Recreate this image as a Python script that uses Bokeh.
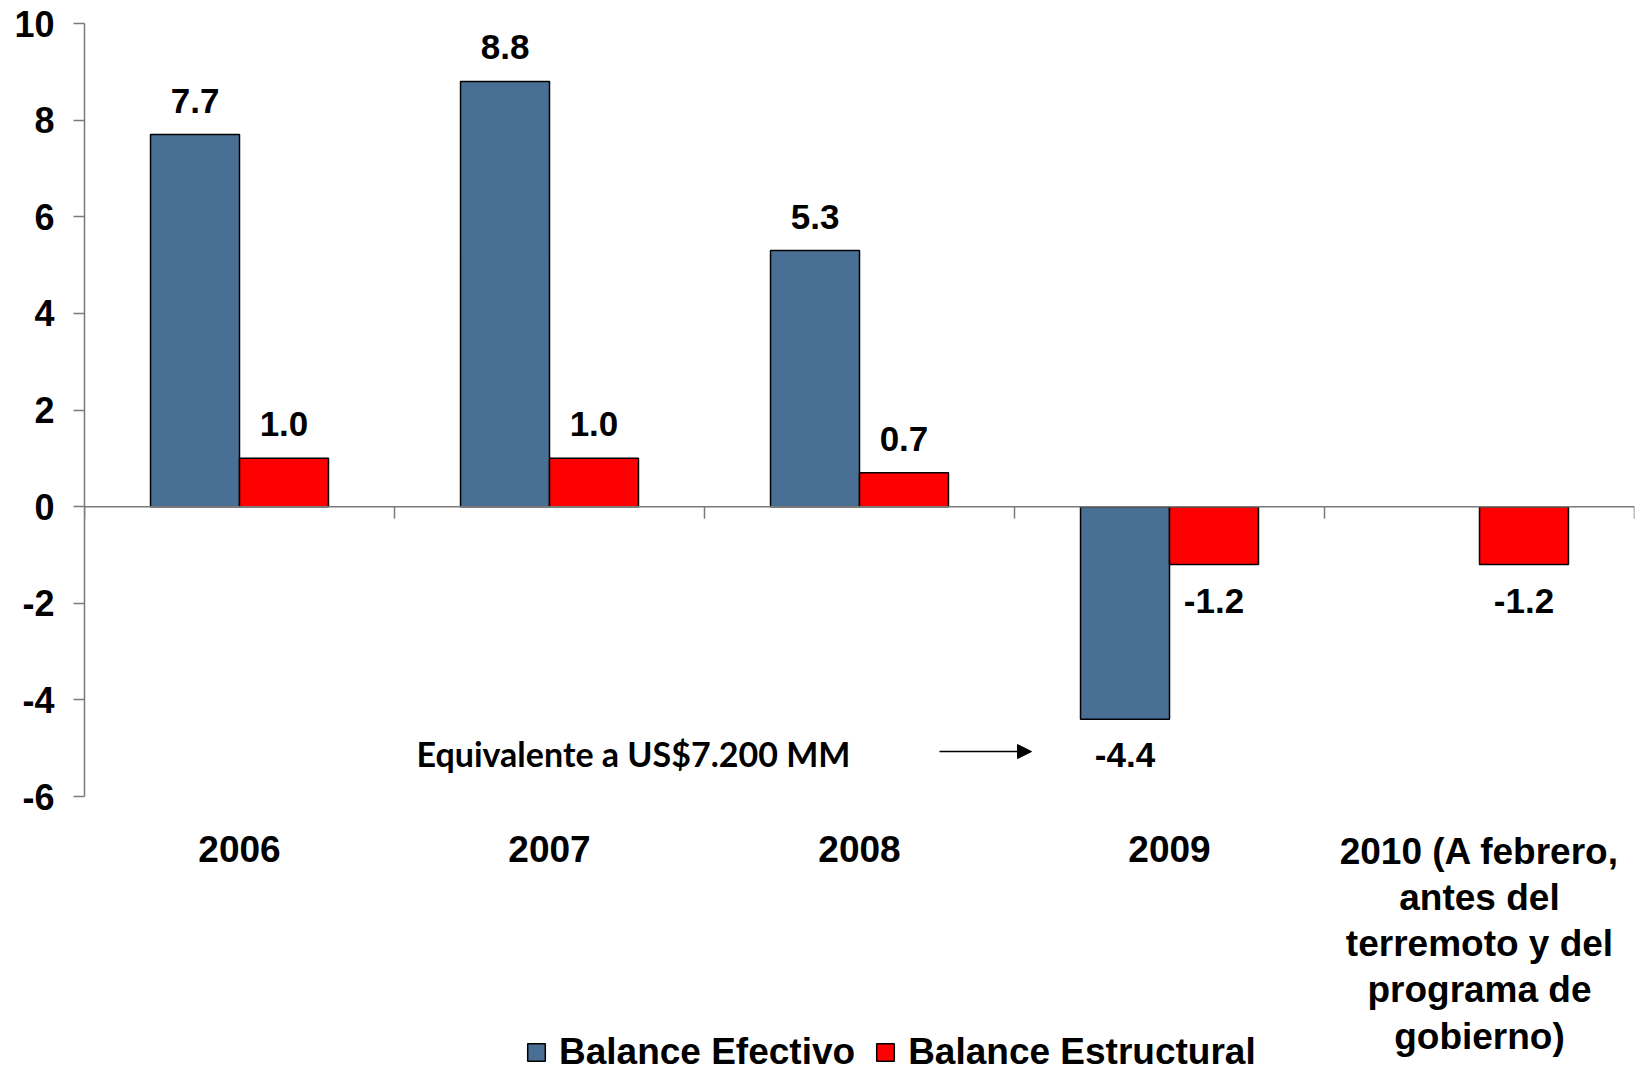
import numpy as np
from bokeh.plotting import figure
from bokeh.models import (Range1d, FixedTicker, ColumnDataSource, Legend, LegendItem,
                          Span, Label, Arrow, NormalHead)
from bokeh.embed import file_html
from bokeh.resources import INLINE
from bokeh.core.properties import value

# ---- data ----
categories = ["2006", "2007", "2008", "2009",
              "2010 (A febrero,\nantes del\nterremoto y del\nprograma de\ngobierno)"]
balance_efectivo = [7.7, 8.8, 5.3, -4.4, None]
balance_estructural = [1.0, 1.0, 0.7, -1.2, -1.2]
y_ticks = [-6, -4, -2, 0, 2, 4, 6, 8, 10]
series_names = ["Balance Efectivo", "Balance Estructural"]
annotation_text = "Equivalente a US$7.200 MM"

BLUE = "#4A6F94"
RED = "#FF0000"
GRAY = "#7a7a7a"
FONT = "Liberation Sans"

# ---- layout geometry (pixels) ----
W, H = 1645, 1073
TOP, LEFT, RIGHT = 23, 84, 11
AXIS_BOTTOM_PX = 796            # where the lowest y tick sits
ymin, ymax = min(y_ticks), max(y_ticks)
ppu = (AXIS_BOTTOM_PX - TOP) / (ymax - ymin)
y_start = ymin - (H - AXIS_BOTTOM_PX) / ppu

n = len(categories)
centers = np.arange(n) + 0.5
bw = 0.287

p = figure(width=W, height=H, output_backend="svg", toolbar_location=None,
           x_range=Range1d(0, n), y_range=Range1d(y_start, ymax),
           min_border_left=LEFT, min_border_right=RIGHT, min_border_top=TOP,
           min_border_bottom=0)
p.outline_line_color = None
p.grid.visible = False
p.background_fill_color = "white"
p.xaxis.visible = False

def build(vals, offset):
    xs, ys = [], []
    for c, v in zip(centers, vals):
        if v is None:
            continue
        xs.append(c + offset)
        ys.append(v)
    labels = ["%.1f" % v for v in ys]
    yoff = [-34 if v >= 0 else 36 for v in ys]
    return ColumnDataSource(dict(x=xs, top=ys, label=labels, yoff=yoff))

src_e = build(balance_efectivo, -bw / 2)
src_s = build(balance_estructural, bw / 2)

r_e = p.vbar(x="x", top="top", bottom=0, width=bw, source=src_e,
             fill_color=BLUE, line_color="black", line_width=1.5)
r_s = p.vbar(x="x", top="top", bottom=0, width=bw, source=src_s,
             fill_color=RED, line_color="black", line_width=1.5)

for src in (src_e, src_s):
    p.text(x="x", y="top", text="label", y_offset="yoff", source=src,
           text_align="center", text_baseline="middle",
           text_font=value(FONT), text_font_style="bold", text_font_size="35px",
           text_color="black")

# zero line with category ticks
p.add_layout(Span(location=0, dimension="width", line_color=GRAY, line_width=1.5))
bounds = np.arange(n + 1)
p.segment(x0=bounds, y0=np.zeros(n + 1), x1=bounds, y1=np.full(n + 1, -0.25),
          line_color=GRAY, line_width=1.5)

# y axis
ya = p.yaxis[0]
ya.bounds = (ymin, ymax)
ya.ticker = FixedTicker(ticks=y_ticks)
ya.major_label_overrides = {t: str(t) for t in y_ticks}
ya.axis_line_color = GRAY
ya.axis_line_width = 1.5
ya.major_tick_line_color = GRAY
ya.major_tick_line_width = 1.5
ya.major_tick_out = 11
ya.major_tick_in = 0
ya.minor_tick_line_color = None
ya.major_label_standoff = 19
ya.major_label_text_font = FONT
ya.major_label_text_font_style = "bold"
ya.major_label_text_font_size = "36px"
ya.major_label_text_color = "black"

# category labels under the plot
cat_off = [34 if "\n" in c else 39 for c in categories]
cat_src = ColumnDataSource(dict(x=list(centers), y=[ymin] * n, text=categories, yoff=cat_off))
p.text(x="x", y="y", text="text", source=cat_src, y_offset="yoff",
       text_align="center", text_baseline="top", text_line_height=1.13,
       text_font=value(FONT), text_font_style="bold", text_font_size="37px",
       text_color="black")

# annotation
p.add_layout(Label(x=1.071, y=-5.10, text=annotation_text, text_align="left",
                   text_baseline="middle", text_font="Lato", text_font_style="bold",
                   text_font_size="34px", text_color="black"))
p.add_layout(Arrow(x_start=2.758, y_start=-5.07, x_end=3.055, y_end=-5.07,
                   line_color="black", line_width=1.5,
                   end=NormalHead(size=14, fill_color="black", line_color="black")))

legend = Legend(items=[LegendItem(label=series_names[0], renderers=[r_e]),
                       LegendItem(label=series_names[1], renderers=[r_s])],
                orientation="horizontal", location=(441, 0),
                border_line_color=None, background_fill_alpha=0,
                padding=0, margin=0, spacing=19, label_standoff=12,
                glyph_width=22, glyph_height=22,
                label_text_font=FONT, label_text_font_style="bold",
                label_text_font_size="37px", label_text_color="black")
p.add_layout(legend, "center")

open("out.html", "w").write(file_html(p, INLINE))
